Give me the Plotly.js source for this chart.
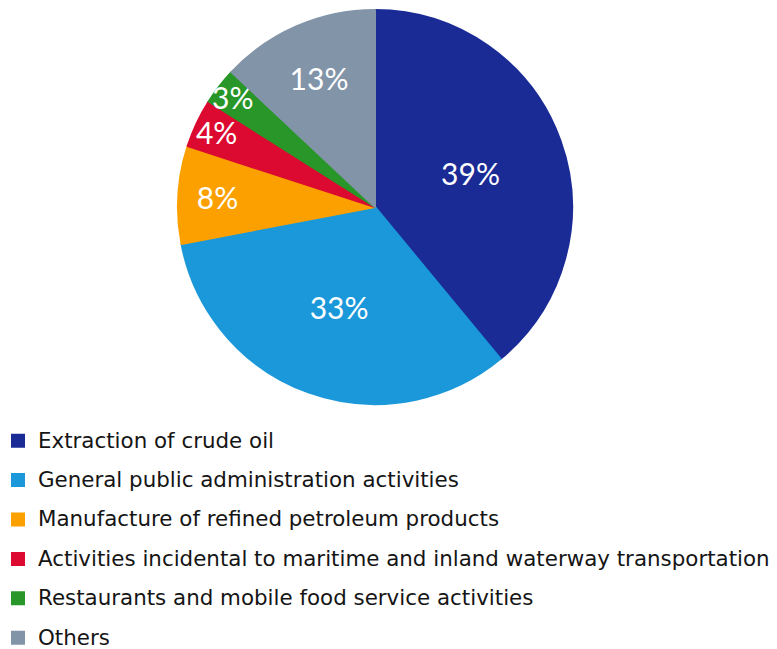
<!DOCTYPE html>
<html>
<head>
<meta charset="utf-8">
<script src="https://cdn.plot.ly/plotly-3.0.1.min.js"></script>
<style>html,body{margin:0;padding:0;background:#fff;}#chart{width:777px;height:649px;}</style>
</head>
<body>
<div id="chart"></div>
<script>
var categories = [
  "Extraction of crude oil",
  "General public administration activities",
  "Manufacture of refined petroleum products",
  "Activities incidental to maritime and inland waterway transportation",
  "Restaurants and mobile food service activities",
  "Others"
];
var shares = [39, 33, 8, 4, 3, 13];
var colors = ["#1a2b96", "#1b98d9", "#fca000", "#dc0a30", "#289628", "#8294a8"];

var legendLabels = categories.map(function (c) {
  return '<span style="font-size:21.4px;baseline-shift:4px">' + c + '</span>';
});

var data = [{
  type: "pie",
  labels: legendLabels,
  values: shares,
  sort: false,
  direction: "clockwise",
  rotation: 0,
  marker: { colors: colors, line: { color: colors, width: 2 } },
  texttemplate: "%{percent:.0%}",
  textposition: "inside",
  insidetextorientation: "horizontal",
  textfont: { family: "Lato, sans-serif", size: 30, color: "#ffffff" },
  hoverinfo: "label+percent",
  domain: { x: [178 / 777, 572 / 777], y: [1 - 404 / 649, 1 - 10 / 649] }
}];

var layout = {
  width: 777,
  height: 649,
  margin: { l: 0, r: 0, t: 0, b: 0, autoexpand: false },
  paper_bgcolor: "#ffffff",
  showlegend: true,
  uniformtext: { minsize: 30, mode: "show" },
  legend: {
    x: -2 / 777,
    xanchor: "left",
    y: 1 - 416 / 649,
    yanchor: "top",
    font: { family: "DejaVu Sans, sans-serif", size: 28, color: "#151515" },
    bgcolor: "rgba(0,0,0,0)",
    traceorder: "normal"
  }
};

Plotly.newPlot("chart", data, layout, { displayModeBar: false, staticPlot: true });
</script>
</body>
</html>
